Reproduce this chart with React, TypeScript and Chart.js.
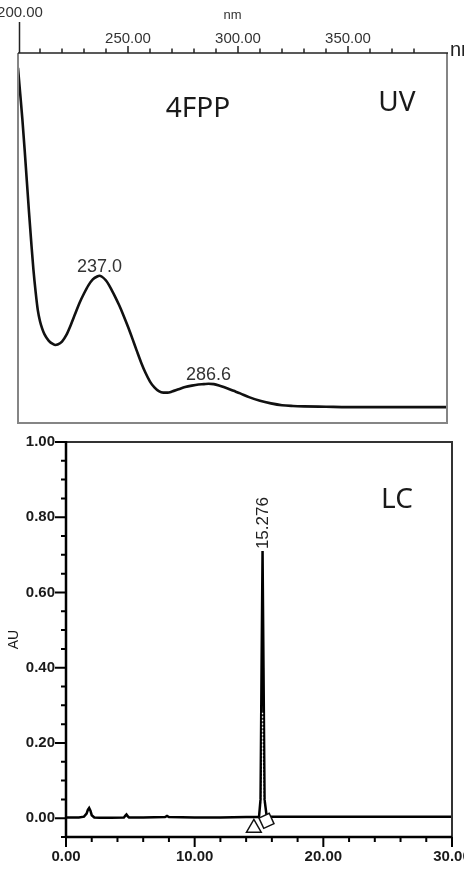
import React, { useEffect, useRef } from "react";
import { Chart, registerables } from "chart.js";

Chart.register(...registerables);

const FONT = "'Liberation Sans', Arial, Helvetica, sans-serif";
Chart.defaults.font.family = FONT;

// ---------- UV spectrum data ----------
const uvWavelength = [
  200, 201, 202, 203, 204, 205, 206, 207, 208, 209, 210, 211, 212, 214, 216, 217, 218, 220,
  222, 224, 226, 228, 230, 232, 234, 236, 237, 238, 240, 242, 244, 246, 248, 250, 252, 254,
  256, 258, 260, 262, 264, 266, 268, 270, 273, 276, 279, 282, 284.5, 286.6, 289, 292, 295,
  298, 301, 305, 310, 315, 320, 325, 330, 340, 350, 360, 370, 380, 395,
];
const uvAbsorbance = [
  0.96, 0.89, 0.82, 0.74, 0.655, 0.57, 0.49, 0.415, 0.355, 0.305, 0.275, 0.255, 0.24, 0.222,
  0.213, 0.211, 0.212, 0.22, 0.238, 0.265, 0.295, 0.325, 0.35, 0.372, 0.388, 0.396, 0.398,
  0.396, 0.385, 0.366, 0.343, 0.318, 0.29, 0.26, 0.228, 0.195, 0.163, 0.135, 0.112, 0.096,
  0.086, 0.082, 0.082, 0.085, 0.091, 0.097, 0.101, 0.104, 0.105, 0.106, 0.105, 0.1, 0.094,
  0.087, 0.08, 0.07, 0.06, 0.053, 0.048, 0.046, 0.045, 0.044, 0.043, 0.043, 0.043, 0.043,
  0.043,
];
const uvPeakWavelengths = [237.0, 286.6];
const uvTickValues = [200, 250, 300, 350];
const uvTickLabels = ["200.00", "250.00", "300.00", "350.00"];
const uvUnit = "nm";
const uvSample = "4FPP";
const uvTag = "UV";

// ---------- LC chromatogram data ----------
const lcTime = [
  0, 0.5, 1.0, 1.4, 1.6, 1.7, 1.8, 1.9, 2.0, 2.2, 2.6, 3.5, 4.5, 4.6, 4.7, 4.8, 4.9, 6.0,
  7.7, 7.85, 8.0, 10, 12, 14, 15.0, 15.12, 15.2, 15.276, 15.35, 15.43, 15.6,
  17, 20, 25, 30,
];
const lcAU = [
  0.002, 0.002, 0.002, 0.004, 0.012, 0.022, 0.027, 0.02, 0.008, 0.002, 0.001, 0.001, 0.002,
  0.006, 0.01, 0.005, 0.002, 0.002, 0.003, 0.006, 0.003, 0.002, 0.002, 0.003, 0.003, 0.05,
  0.4, 0.71, 0.4, 0.05, 0.004, 0.004, 0.004, 0.004, 0.004,
];
const lcPeakTime = 15.276;
const lcPeakLabel = "15.276";
const lcDropTime = [15.276, 15.276];
const lcDropAU = [0.28, 0.005];
const lcMarkerTime = [14.6, 15.58];
const lcMarkerAU = [-0.026, -0.007];
const lcXTickValues = [0, 10, 20, 30];
const lcXTickLabels = ["0.00", "10.00", "20.00", "30.00"];
const lcYTickValues = [0, 0.2, 0.4, 0.6, 0.8, 1.0];
const lcYTickLabels = ["0.00", "0.20", "0.40", "0.60", "0.80", "1.00"];
const lcYTitle = "AU";
const lcTag = "LC";

const near = (a: number, b: number) => Math.abs(a - b) < 1e-7;
const isMult = (v: number, step: number) => near(v / step, Math.round(v / step));

const uvDecor = {
  id: "uvDecor",
  afterDraw(chart: any) {
    const { ctx, chartArea: a, scales } = chart;
    const x = scales.x;
    const y = scales.y;
    ctx.save();
    // frame
    ctx.strokeStyle = "#858585";
    ctx.lineWidth = 2;
    ctx.beginPath();
    ctx.moveTo(a.left, a.top);
    ctx.lineTo(a.left, a.bottom);
    ctx.lineTo(a.right, a.bottom);
    ctx.lineTo(a.right, a.top);
    ctx.stroke();
    // top axis line
    ctx.strokeStyle = "#222";
    ctx.lineWidth = 1.5;
    ctx.beginPath();
    ctx.moveTo(a.left, a.top);
    ctx.lineTo(a.right + 1, a.top);
    ctx.stroke();
    // tick marks
    ctx.beginPath();
    x.ticks.forEach((t: any) => {
      if (!isMult(t.value, 10)) return;
      const px = x.getPixelForValue(t.value);
      const len = near(t.value, x.min) ? 31 : isMult(t.value, 50) ? 7 : 4.5;
      const off = near(t.value, x.min) ? 1.5 : 0;
      ctx.moveTo(px + off, a.top);
      ctx.lineTo(px + off, a.top - len);
    });
    ctx.stroke();
    // first tick label (raised)
    ctx.fillStyle = "#333";
    ctx.font = `15px ${FONT}`;
    ctx.textAlign = "center";
    ctx.textBaseline = "middle";
    ctx.fillText(uvTickLabels[0], x.getPixelForValue(uvTickValues[0]) + 2, 13);
    // unit at axis end
    ctx.font = `20px ${FONT}`;
    ctx.textAlign = "left";
    ctx.textBaseline = "alphabetic";
    ctx.fillStyle = "#222";
    ctx.fillText(uvUnit, a.right + 3, a.top + 3);
    // peak labels
    ctx.font = `18px ${FONT}`;
    ctx.fillStyle = "#333";
    ctx.textAlign = "center";
    uvPeakWavelengths.forEach((w) => {
      const i = uvWavelength.indexOf(w);
      const v = uvAbsorbance[i];
      ctx.fillText(w.toFixed(1), x.getPixelForValue(w), y.getPixelForValue(v) - 4);
    });
    // titles
    ctx.font = `28px 'Noto Sans', sans-serif`;
    ctx.fillStyle = "#1a1a1a";
    ctx.fillText(uvSample, 198, 117);
    ctx.fillText(uvTag, 397, 111);
    ctx.restore();
  },
};

const lcDecor = {
  id: "lcDecor",
  afterDraw(chart: any) {
    const { ctx, chartArea: a, scales } = chart;
    const x = scales.x;
    const y = scales.y;
    ctx.save();
    // frame top & right
    ctx.strokeStyle = "#333";
    ctx.lineWidth = 2;
    ctx.beginPath();
    ctx.moveTo(a.left, a.top);
    ctx.lineTo(a.right, a.top);
    ctx.lineTo(a.right, a.bottom + 3);
    ctx.stroke();
    // axes
    ctx.strokeStyle = "#000";
    ctx.lineWidth = 2.5;
    ctx.beginPath();
    ctx.moveTo(a.left, a.top - 1);
    ctx.lineTo(a.left, a.bottom + 1);
    ctx.moveTo(a.left, a.bottom);
    ctx.lineTo(a.right, a.bottom);
    ctx.stroke();
    // ticks
    ctx.lineWidth = 2;
    ctx.beginPath();
    y.ticks.forEach((t: any) => {
      const py = y.getPixelForValue(t.value);
      const major = isMult(t.value, 0.2);
      ctx.moveTo(a.left, py);
      ctx.lineTo(a.left - (major ? 11 : 5), py);
    });
    x.ticks.forEach((t: any) => {
      if (!isMult(t.value, 2)) return;
      const px = x.getPixelForValue(t.value);
      const major = isMult(t.value, 10);
      ctx.moveTo(px, a.bottom);
      ctx.lineTo(px, a.bottom + (major ? 10 : 5));
    });
    ctx.stroke();
    // peak label (rotated)
    const idx = lcTime.indexOf(lcPeakTime);
    const px = x.getPixelForValue(lcPeakTime);
    const py = y.getPixelForValue(lcAU[idx]);
    ctx.save();
    ctx.translate(px + 0.5, py - 2);
    ctx.rotate(-Math.PI / 2);
    ctx.font = `17px ${FONT}`;
    ctx.fillStyle = "#222";
    ctx.textAlign = "left";
    ctx.textBaseline = "middle";
    ctx.fillText(lcPeakLabel, 0, 0);
    ctx.restore();
    // tag
    ctx.font = `28px 'Noto Sans', sans-serif`;
    ctx.fillStyle = "#1a1a1a";
    ctx.textAlign = "center";
    ctx.textBaseline = "alphabetic";
    ctx.fillText(lcTag, 397, 78);
    ctx.restore();
  },
};

function uvConfig(): any {
  return {
    type: "line",
    data: {
      datasets: [
        {
          data: uvWavelength.map((w, i) => ({ x: w, y: uvAbsorbance[i] })),
          borderColor: "#111",
          borderWidth: 2.6,
          pointRadius: 0,
          cubicInterpolationMode: "monotone",
          fill: false,
        },
      ],
    },
    options: {
      responsive: false,
      animation: false,
      events: [],
      layout: { padding: { left: 18, right: 17, top: 0, bottom: 7 } },
      plugins: { legend: { display: false }, tooltip: { enabled: false } },
      scales: {
        x: {
          type: "linear",
          position: "top",
          min: 200,
          max: 395,
          grid: { display: false, drawTicks: false },
          border: { display: false },
          ticks: {
            stepSize: 10,
            autoSkip: false,
            maxRotation: 0,
            padding: 5.5,
            color: "#333",
            font: { size: 15, family: FONT },
            callback: (v: number) => {
              const i = uvTickValues.findIndex((t) => near(t, v));
              return i > 0 ? uvTickLabels[i] : "";
            },
          },
          title: {
            display: true,
            text: uvUnit,
            color: "#333",
            font: { size: 13, family: FONT },
            padding: { top: 8, bottom: 0 },
          },
          afterFit: (s: any) => {
            s.height = 53;
            s.paddingLeft = 0;
            s.paddingRight = 0;
          },
        },
        y: { display: false, min: 0, max: 1 },
      },
    },
    plugins: [uvDecor],
  };
}

function lcConfig(): any {
  return {
    type: "line",
    data: {
      datasets: [
        {
          data: lcMarkerTime.map((t, i) => ({ x: t, y: lcMarkerAU[i] })),
          showLine: false,
          pointStyle: ["triangle", "rectRot"],
          pointRadius: [8.5, 8],
          pointRotation: [0, 20],
          backgroundColor: "#fff",
          borderColor: "#111",
          borderWidth: 1.5,
          order: 0,
        },
        {
          data: lcDropTime.map((t, i) => ({ x: t, y: lcDropAU[i] })),
          borderColor: "#fff",
          borderWidth: 1.3,
          borderDash: [1.5, 2],
          pointRadius: 0,
          order: 1,
        },
        {
          data: lcTime.map((t, i) => ({ x: t, y: lcAU[i] })),
          borderColor: "#000",
          borderWidth: 2.5,
          pointRadius: 0,
          tension: 0,
          order: 2,
        },
      ],
    },
    options: {
      responsive: false,
      animation: false,
      events: [],
      layout: { padding: { left: 0, right: 12, top: 12, bottom: 0 } },
      plugins: { legend: { display: false }, tooltip: { enabled: false } },
      scales: {
        x: {
          type: "linear",
          min: 0,
          max: 30,
          grid: { display: false, drawTicks: false },
          border: { display: false },
          ticks: {
            stepSize: 2,
            autoSkip: false,
            maxRotation: 0,
            padding: 11,
            color: "#1a1a1a",
            font: { size: 15, weight: "bold", family: FONT },
            callback: (v: number) => {
              const i = lcXTickValues.findIndex((t) => near(t, v));
              return i >= 0 ? lcXTickLabels[i] : "";
            },
          },
          afterFit: (s: any) => {
            s.height = 47;
            s.paddingLeft = 0;
            s.paddingRight = 0;
          },
        },
        y: {
          type: "linear",
          min: -0.05,
          max: 1.0,
          grid: { display: false, drawTicks: false },
          border: { display: false },
          ticks: {
            stepSize: 0.05,
            autoSkip: false,
            padding: 11,
            color: "#1a1a1a",
            font: { size: 15, weight: "bold", family: FONT },
            callback: (v: number) => {
              const i = lcYTickValues.findIndex((t) => near(t, v));
              return i >= 0 ? lcYTickLabels[i] : "";
            },
          },
          title: {
            display: true,
            text: lcYTitle,
            color: "#1a1a1a",
            font: { size: 14, family: FONT },
            padding: { top: 6, bottom: 0 },
          },
          afterFit: (s: any) => {
            s.width = 66;
            s.paddingTop = 0;
            s.paddingBottom = 0;
          },
        },
      },
    },
    plugins: [lcDecor],
  };
}

export default function App() {
  const uvRef = useRef<HTMLCanvasElement>(null);
  const lcRef = useRef<HTMLCanvasElement>(null);

  useEffect(() => {
    const uv = new Chart(uvRef.current as HTMLCanvasElement, uvConfig());
    const lc = new Chart(lcRef.current as HTMLCanvasElement, lcConfig());
    return () => {
      uv.destroy();
      lc.destroy();
    };
  }, []);

  return (
    <div
      style={{
        position: "absolute",
        left: 0,
        top: 0,
        width: 464,
        height: 884,
        background: "#fff",
        overflow: "hidden",
      }}
    >
      <canvas
        ref={uvRef}
        width={464}
        height={430}
        style={{ position: "absolute", left: 0, top: 0, width: 464, height: 430 }}
      />
      <canvas
        ref={lcRef}
        width={464}
        height={454}
        style={{ position: "absolute", left: 0, top: 430, width: 464, height: 454 }}
      />
    </div>
  );
}
